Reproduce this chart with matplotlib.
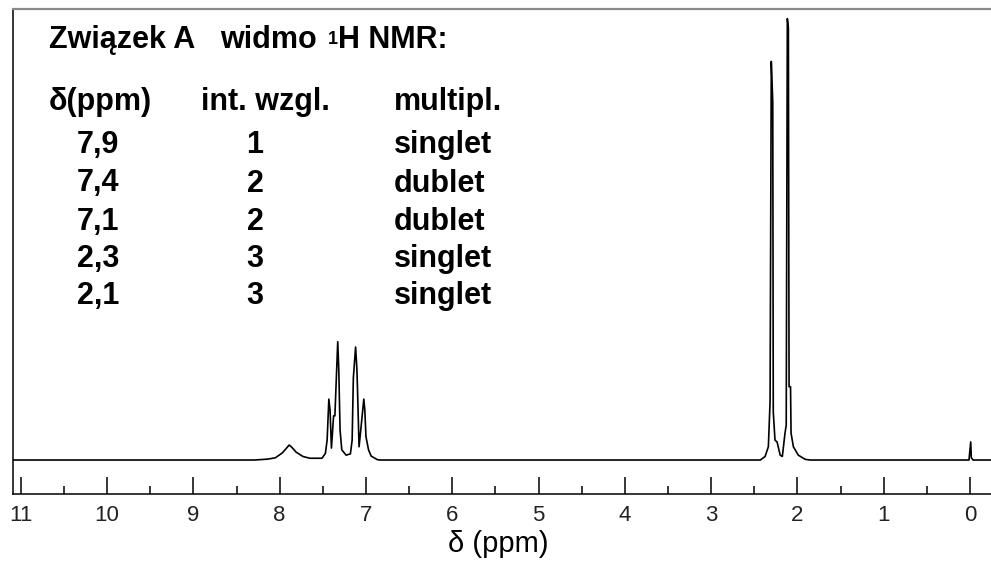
import matplotlib
matplotlib.use('Agg')
import matplotlib.pyplot as plt
from matplotlib.ticker import MultipleLocator

# spectrum trace (ppm, relative intensity, 100 = tallest line)
ppm = [11.2, 8.29, 8.14, 8.05, 7.97, 7.92, 7.89, 7.86, 7.81, 7.73, 7.65, 7.51,
       7.47, 7.45, 7.43, 7.416, 7.40, 7.375, 7.36, 7.327, 7.315, 7.30, 7.28,
       7.23, 7.18, 7.16, 7.146, 7.12, 7.105, 7.098, 7.08, 7.06, 7.025, 7.013,
       7.00, 6.97, 6.94, 6.87, 6.84,
       2.43, 2.375, 2.337, 2.317, 2.303, 2.286, 2.28, 2.26, 2.236, 2.20, 2.175,
       2.144, 2.13, 2.117, 2.105, 2.097, 2.08, 2.074, 2.047, 1.99, 1.91, 1.854,
       0.012, -0.008, -0.015, -0.035, -0.3]
intensity = [0, 0, 0.2, 0.5, 1.6, 2.7, 3.4, 2.9, 1.8, 0.8, 0.4, 0.4,
             1.5, 4.5, 13.8, 11.3, 2.7, 10.0, 10.0, 26.8, 20.6, 6.8, 2.3,
             1.1, 1.4, 4.5, 18.6, 25.6, 20.6, 16.1, 3.0, 6.8, 13.8, 11.3,
             5.3, 2.3, 0.9, 0.1, 0,
             0, 0.8, 3.0, 13.2, 90.3, 81.1, 10.9, 4.5, 4.1, 1.1, 0.8,
             6.1, 7.9, 100, 98.0, 16.6, 16.6, 6.1, 3.0, 1.1, 0.15, 0,
             0, 4.1, 0.5, 0, 0]

# table in the upper left
shifts = ['7,9', '7,4', '7,1', '2,3', '2,1']
rel_int = ['1', '2', '2', '3', '3']
multiplicity = ['singlet', 'dublet', 'dublet', 'singlet', 'singlet']

W, H = 991, 562
fig = plt.figure(figsize=(W / 100, H / 100), dpi=100)
ax = fig.add_axes([13 / W, (H - 494) / H, (W - 13) / W, (494 - 8.5) / H])

ax.plot(ppm, intensity, color='black', lw=1.2)
ax.set_xlim(11.09, -0.243)
ax.set_ylim(-7.7, 102.3)

ax.spines['right'].set_visible(False)
ax.spines['top'].set_color('#8a8a8a')
ax.spines['top'].set_linewidth(1.6)
ax.spines['left'].set_linewidth(1.1)
ax.spines['bottom'].set_linewidth(1.1)
ax.set_yticks([])
ax.xaxis.set_major_locator(MultipleLocator(1))
ax.xaxis.set_minor_locator(MultipleLocator(0.5))
ax.tick_params(axis='x', which='major', direction='in', length=12, width=1.1,
               pad=8, labelsize=16, labelcolor='#222222')
ax.tick_params(axis='x', which='minor', direction='in', length=6, width=1.1)
for lab in ax.get_xticklabels():
    lab.set_family('Liberation Sans')

def fx(px):
    return px / W

def fy(py):
    return 1 - py / H

bold = dict(family='Liberation Sans', weight='bold', fontsize=22, va='baseline', ha='left')
fig.text(fx(49), fy(48), 'Związek A', **bold)
fig.text(fx(220), fy(48), 'widmo', **bold)
fig.text(fx(328), fy(44), '1', family='Liberation Sans', weight='bold',
         fontsize=13, va='baseline', ha='left')
fig.text(fx(338), fy(48), 'H NMR:', **bold)

fig.text(fx(49), fy(110), 'δ(ppm)', **bold)
fig.text(fx(201), fy(110), 'int. wzgl.', **bold)
fig.text(fx(394), fy(110), 'multipl.', **bold)

row_y = [153, 191.5, 230, 267, 304]
for y, s, n, m in zip(row_y, shifts, rel_int, multiplicity):
    fig.text(fx(77), fy(y), s, **bold)
    fig.text(fx(255), fy(y), n, **{**bold, 'ha': 'center'})
    fig.text(fx(394), fy(y), m, **bold)

fig.text(fx(498), fy(552), 'δ (ppm)', family='Liberation Sans', fontsize=21,
         va='baseline', ha='center')

fig.savefig('out.png', dpi=100)
